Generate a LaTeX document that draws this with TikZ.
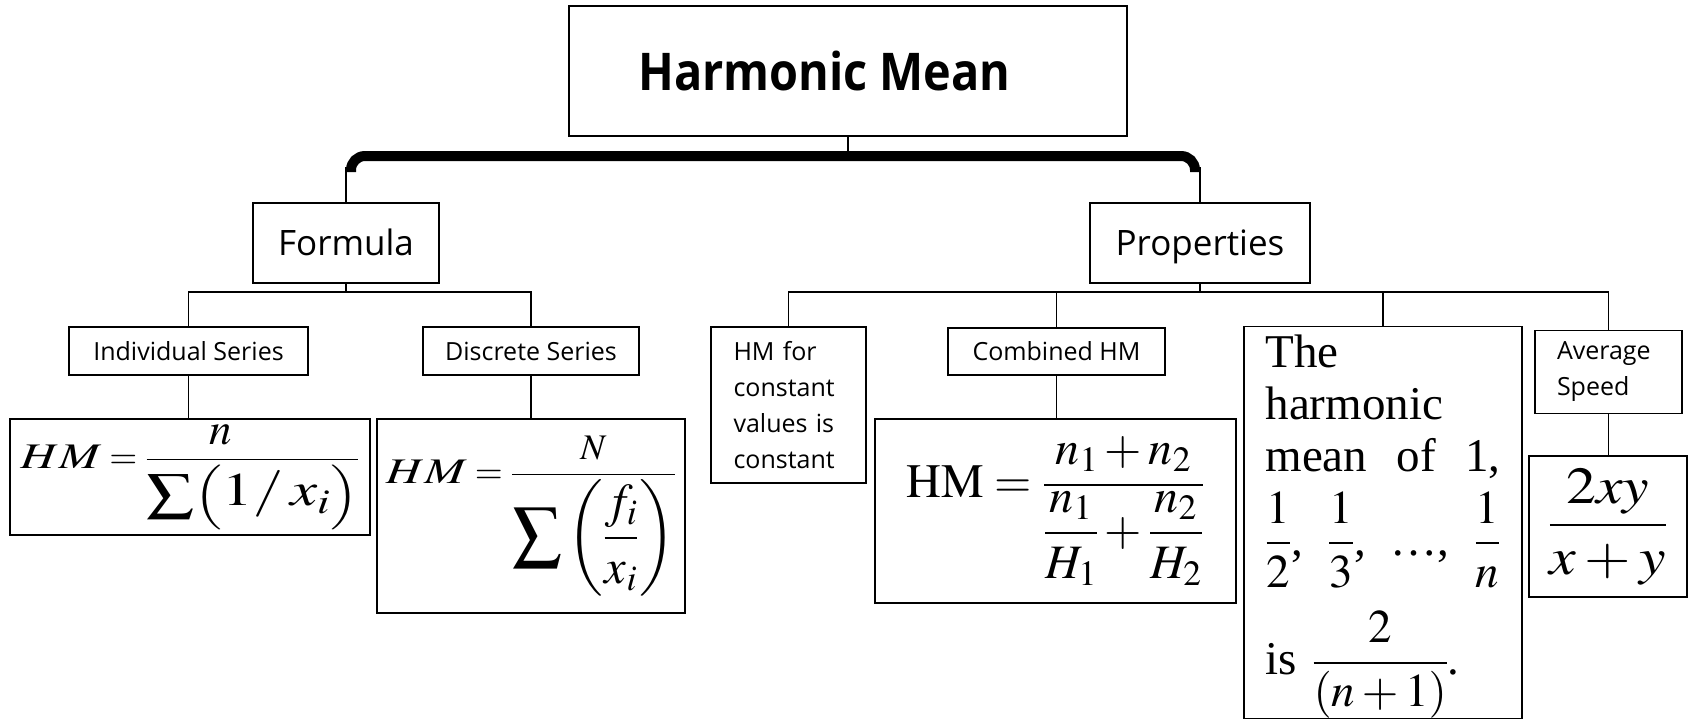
\documentclass[tikz,border=0pt]{standalone}
\usepackage{amsmath}
\usepackage{mathptmx}
\usepackage{graphicx}
\usepackage{fontspec}
\setmainfont{Liberation Serif}
\setsansfont{Open Sans}
\newfontfamily\titlefont[FakeStretch=0.9]{Open Sans}
\usetikzlibrary{positioning, calc}
\newcommand{\wideHM}{\scalebox{1.35}[1]{$HM$}}
\tikzset{
  every picture/.style={line width=1.6pt},
  box/.style={draw, rectangle, inner sep=0pt, align=center, font=\sffamily\fontsize{25}{36}\selectfont},
  headbox/.style={box, text height=25pt, text depth=0pt, font=\sffamily\fontsize{35}{42}\selectfont},
  formbox/.style={draw, rectangle, inner sep=0pt, align=center, font=\fontsize{#1}{#1}\selectfont},
  link/.style={draw, line width=1.5pt},
  bus/.style={draw, line width=10pt, rounded corners=14pt},
}

\begin{document}
\begin{tikzpicture}[x=1pt, y=-1pt]
  % pixel grid of the sheet, y runs down
  \useasboundingbox (0,0) rectangle (1689,720);
  % title and the two branches
  \node[box, minimum width=558pt, minimum height=130pt, font=\titlefont\bfseries\fontsize{52}{60}\selectfont] (title) at (848,71) {Harmonic Mean\hspace*{47pt}};
  \node[headbox, minimum width=186pt, minimum height=80pt] (formula) at (346,243) {Formula};
  \node[headbox, minimum width=220pt, minimum height=80pt] (properties) at (1200,243) {Properties};
  \coordinate (busmid) at (848,156);
  \coordinate (formjoint) at (346,292);
  \coordinate (propjoint) at (1200,292);
  % formula side
  \node[box, minimum width=239pt, minimum height=48pt] (individual) at (188.5,351) {Individual Series};
  \node[box, minimum width=216pt, minimum height=48pt] (discrete) at (531,351) {Discrete Series};
  \node[formbox=36, minimum width=360pt, minimum height=116pt] (hmindividual) at (190,477) {$\wideHM=\dfrac{\scalebox{1.25}{$n$}}{\scalebox{1.3}[1]{$\displaystyle\sum$}\scalebox{1.3}[1]{$\Bigl(\scalebox{1.3}{$1/\,x_i$}\Bigr)$}}$};
  \node[formbox=36, minimum width=308pt, minimum height=194pt] (hmdiscrete) at (531,516) {$\wideHM=\dfrac{N}{\scalebox{1.35}{$\displaystyle\sum\left(\dfrac{f_i}{x_i}\right)$}}$};
  % properties side
  \node[box, text width=110pt, align=left, inner xsep=22.5pt, minimum height=156pt] (constant) at (788.5,405) {HM for\\ constant\\ values is\\ constant};
  \node[box, minimum width=217pt, minimum height=47pt] (combined) at (1056.5,351.5) {Combined HM};
  \node[formbox=48, minimum width=361pt, minimum height=184pt] (hmcombined) at (1055.5,511) {$\mathrm{HM}=\dfrac{n_1+n_2}{\dfrac{n_1}{H_1}+\dfrac{n_2}{H_2}}$};
  \node[formbox=47, text width=235pt, align=left, inner xsep=21.5pt, minimum height=391pt, font=\fontsize{47}{52}\selectfont] (meanlist) at (1383,522.5) {\rule{0pt}{41pt}The\\
    harmonic\\
    mean\hfill of\hfill 1,\\[12pt]
    $\dfrac{1}{2}$,\hfill $\dfrac{1}{3}$,\hfill \dots,\hfill $\dfrac{1}{n}$\\[22pt]
    is $\dfrac{2}{\left(n+1\right)}$.};
  \node[box, text width=103pt, align=left, inner xsep=22pt, minimum height=83pt] (speed) at (1608.5,372) {Average\\ Speed};
  \node[formbox=52, minimum width=158pt, minimum height=141pt] (hmspeed) at (1608,526.5) {\scalebox{1.15}[1]{$\dfrac{2xy}{x+y}$}};
  % connectors
  \draw[link] (title) -- (title.south |- busmid);
  \draw[bus] ([shift={(5,-30)}]formula.north) |- (busmid) -| ([shift={(-5,-30)}]properties.north);
  \draw[link] (formula.north) -- ++(0,-35);
  \draw[link] (properties.north) -- ++(0,-35);
  \draw[link] (formula) -- (formjoint);
  \draw[link] (individual.north) |- (formjoint) -| (discrete.north);
  \draw[link] (individual) -- (individual.south |- hmindividual.north);
  \draw[link] (discrete) -- (discrete.south |- hmdiscrete.north);
  \draw[link] (properties) -- (propjoint);
  \draw[link] (constant.north) |- (propjoint) -| (speed.north);
  \draw[link] (combined) -- (combined |- propjoint);
  \draw[link] (meanlist) -- (meanlist |- propjoint);
  \draw[link] (combined) -- (combined.south |- hmcombined.north);
  \draw[link] (speed) -- (speed.south |- hmspeed.north);
\end{tikzpicture}
\end{document}
